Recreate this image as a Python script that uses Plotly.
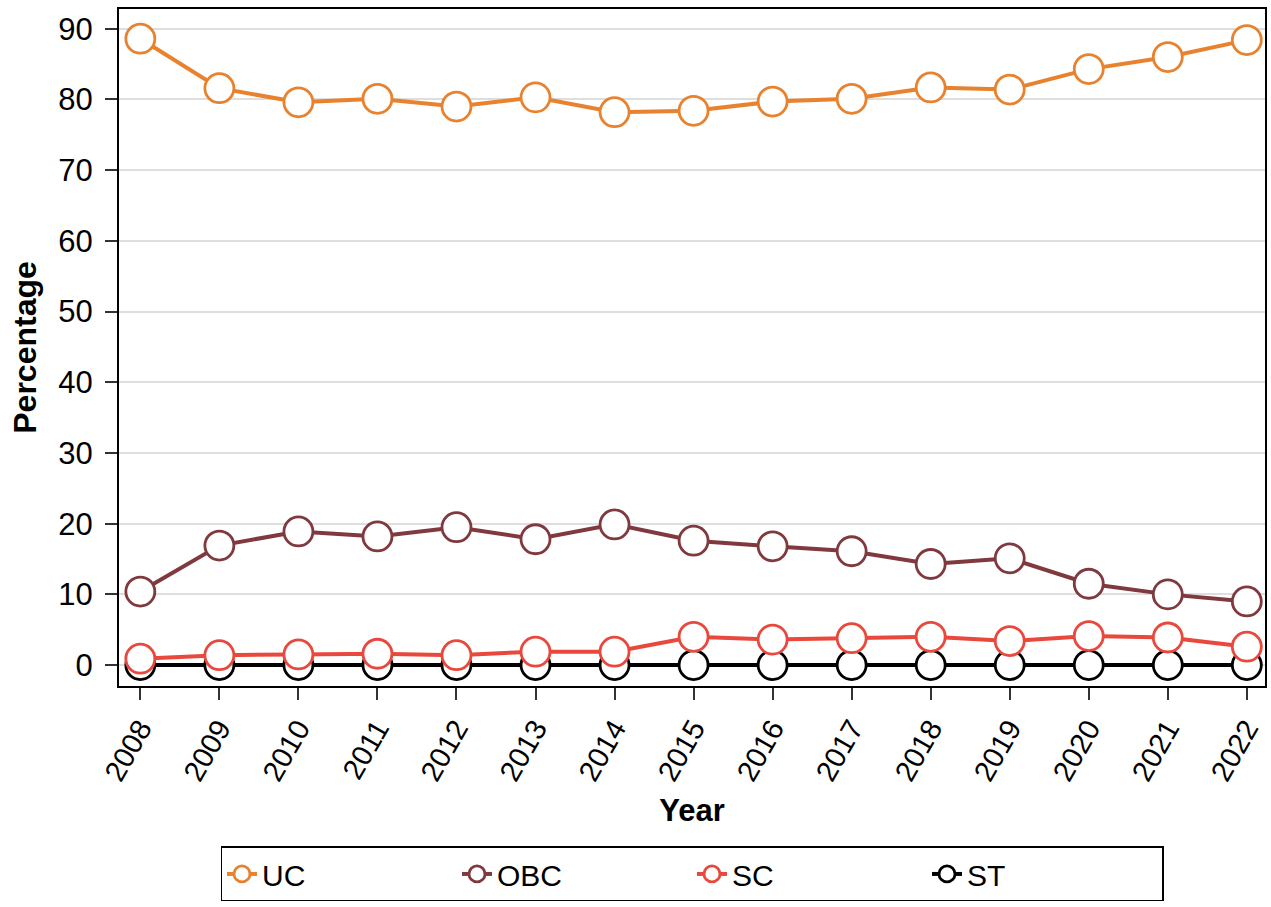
import plotly.graph_objects as go

years = list(range(2008, 2023))
uc = [88.6, 81.6, 79.6, 80.1, 79.0, 80.3, 78.2, 78.4, 79.7, 80.1, 81.7, 81.4, 84.3, 86.0, 88.4]
obc = [10.4, 16.9, 18.9, 18.2, 19.5, 17.8, 19.9, 17.6, 16.8, 16.1, 14.3, 15.1, 11.5, 10.0, 9.0]
sc = [0.9, 1.4, 1.5, 1.6, 1.4, 1.9, 1.9, 4.0, 3.6, 3.8, 4.0, 3.4, 4.1, 3.9, 2.6]
st = [0.0] * 15
y_ticks = [0, 10, 20, 30, 40, 50, 60, 70, 80, 90]

series = [
    ("ST", st, "#000000"),
    ("SC", sc, "#E9483D"),
    ("OBC", obc, "#80393E"),
    ("UC", uc, "#E8822F"),
]

FONT = "Liberation Sans, Arial, Helvetica, sans-serif"

fig = go.Figure()
for name, vals, color in series:
    fig.add_trace(go.Scatter(
        x=years, y=vals, name=name, mode="lines+markers",
        line=dict(color=color, width=4),
        marker=dict(size=29, color="white", line=dict(color=color, width=2.8)),
    ))

fig.update_layout(
    width=1271, height=907,
    margin=dict(l=119, r=6, t=9, b=218),
    paper_bgcolor="white", plot_bgcolor="white",
    font=dict(family=FONT, size=30, color="black"),
    showlegend=True,
    legend=dict(
        orientation="h", traceorder="reversed",
        x=0.5, xanchor="center", y=-0.237, yanchor="top",
        bordercolor="black", borderwidth=1.5,
        font=dict(size=30), entrywidth=190,
        itemsizing="trace",
    ),
)
fig.update_xaxes(
    range=[2007.73, 2022.23], tickvals=years, ticktext=[str(y) for y in years],
    tickangle=-60, ticks="outside", ticklen=12, tickwidth=1.5, tickcolor="#333",
    tickfont=dict(size=29),
    showline=True, linecolor="black", linewidth=2, mirror=True, showgrid=False,
    zeroline=False, automargin=False, ticklabelstandoff=0,
    title=dict(text="<b>Year</b>", font=dict(size=31), standoff=14),
)
fig.update_yaxes(
    range=[-2.96, 92.8], tickvals=y_ticks,
    ticks="outside", ticklen=12, tickwidth=1.5, tickcolor="#333",
    tickfont=dict(size=31),
    showline=True, linecolor="black", linewidth=2, mirror=True,
    showgrid=True, gridcolor="#DEDEDE", gridwidth=2, zeroline=False,
    ticklabelstandoff=6, automargin=False,
    title=dict(text="<b>Percentage</b>", font=dict(size=32), standoff=12),
)

fig.write_html(
    "out.html",
    config={"displayModeBar": False},
    post_script="document.body.style.margin='0px';document.body.style.overflow='hidden';",
)
